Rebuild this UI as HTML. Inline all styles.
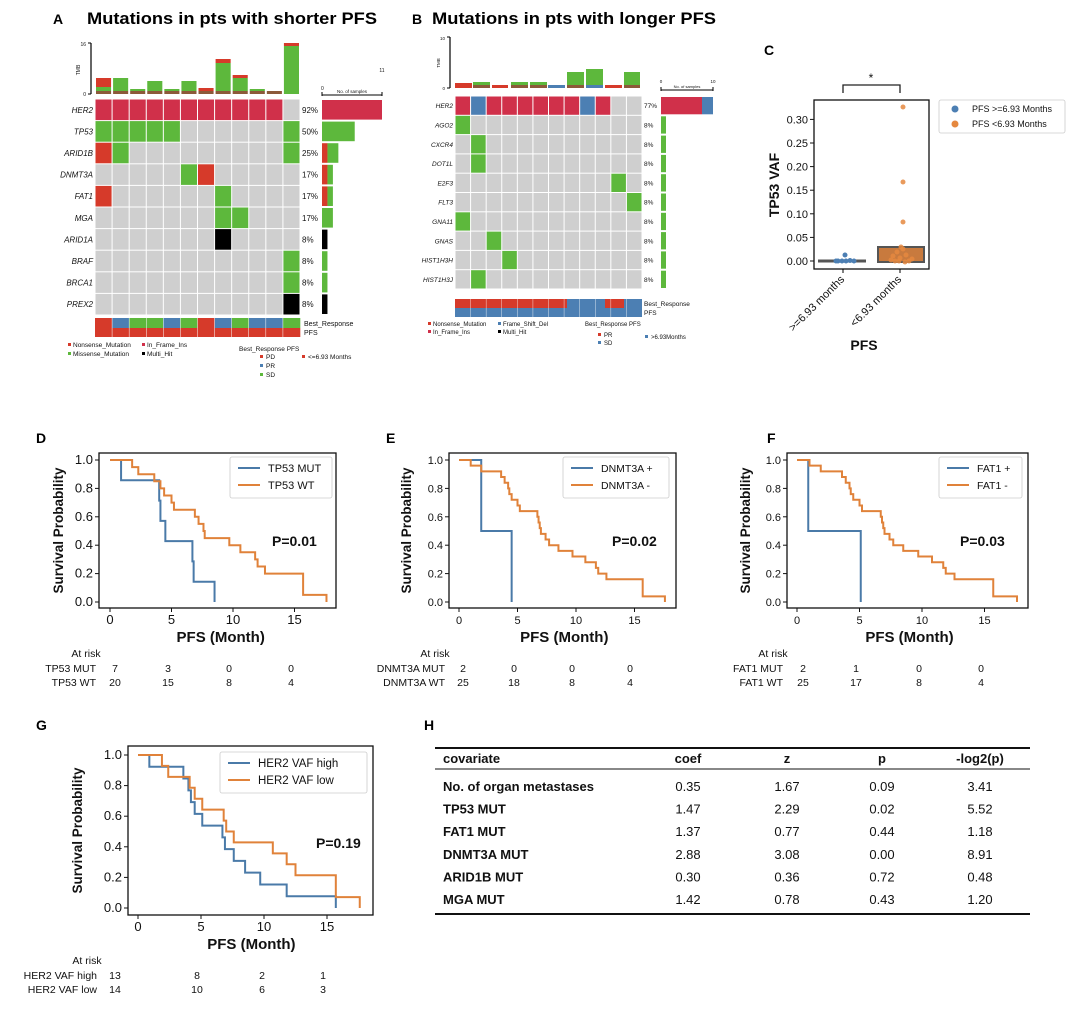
<!DOCTYPE html>
<html><head><meta charset="utf-8">
<style>
html,body{margin:0;padding:0;background:#fff;}
svg{display:block;font-family:"Liberation Sans",Arial,sans-serif;}
</style></head>
<body>
<svg id="s" width="1080" height="1013" viewBox="0 0 1080 1013" xmlns="http://www.w3.org/2000/svg">
<rect width="1080" height="1013" fill="#fff"/>
<text x="53" y="24" font-size="14" font-weight="bold">A</text>
<text x="87" y="24" font-size="17" font-weight="bold" textLength="290" lengthAdjust="spacingAndGlyphs">Mutations in pts with shorter PFS</text>
<text x="412" y="24" font-size="14" font-weight="bold">B</text>
<text x="432" y="24" font-size="17" font-weight="bold" textLength="284" lengthAdjust="spacingAndGlyphs">Mutations in pts with longer PFS</text>
<text x="764" y="55" font-size="14" font-weight="bold">C</text>
<text x="36" y="443" font-size="14" font-weight="bold">D</text>
<text x="386" y="443" font-size="14" font-weight="bold">E</text>
<text x="767" y="443" font-size="14" font-weight="bold">F</text>
<text x="36" y="730" font-size="14" font-weight="bold">G</text>
<text x="424" y="730" font-size="14" font-weight="bold">H</text>
<g id="dyn"></g>
</svg>
<script>
const NS="http://www.w3.org/2000/svg";
const root=document.getElementById('dyn');
function el(tag,attrs,txt){const e=document.createElementNS(NS,tag);for(const k in attrs)e.setAttribute(k,attrs[k]);if(txt!==undefined)e.textContent=txt;root.appendChild(e);return e;}
function rect(x,y,w,h,f){return el('rect',{x:x,y:y,width:w,height:h,fill:f});}
function text(x,y,t,o){o=o||{};const a={x:x,y:y,'font-size':o.fs||10,fill:o.fill||'#111'};if(o.anchor)a['text-anchor']=o.anchor;if(o.bold)a['font-weight']='bold';if(o.italic)a['font-style']='italic';if(o.tr)a.transform=o.tr;return el('text',a,t);}
function line(x1,y1,x2,y2,c,w){return el('line',{x1:x1,y1:y1,x2:x2,y2:y2,stroke:c||'#000','stroke-width':w||1});}
const RED='#d0304a',NRED='#d63a2a',GRN='#5db83c',BLU='#4c7fb3',GRY='#cfcfcf',BRN='#8c5a3a',BLK='#000';

/* ---------- Panel A ---------- */
(function(){
 const x0=95,x1=300,y0=99,y1=315,nc=12,nr=10,cw=(x1-x0)/nc,rh=(y1-y0)/nr;
 const genes=['HER2','TP53','ARID1B','DNMT3A','FAT1','MGA','ARID1A','BRAF','BRCA1','PREX2'];
 const pct=['92%','50%','25%','17%','17%','17%','8%','8%','8%','8%'];
 const M={};
 for(let c=0;c<11;c++)M['0_'+c]=RED;
 [0,1,2,3,4,11].forEach(c=>M['1_'+c]=GRN);
 M['2_0']=NRED;M['2_1']=GRN;M['2_11']=GRN;
 M['3_5']=GRN;M['3_6']=NRED;
 M['4_0']=NRED;M['4_7']=GRN;
 M['5_7']=GRN;M['5_8']=GRN;
 M['6_7']=BLK;M['7_11']=GRN;M['8_11']=GRN;M['9_11']=BLK;
 for(let r=0;r<nr;r++){
  for(let c=0;c<nc;c++){rect(x0+c*cw+0.5,y0+r*rh+0.5,cw-1,rh-1,M[r+'_'+c]||GRY);}
  text(93,y0+r*rh+rh/2+3,genes[r],{fs:8,anchor:'end',italic:true});
  text(302,y0+r*rh+rh/2+3,pct[r],{fs:8});
 }
 // right bars
 const rb=[[ [RED,11] ],[[GRN,6]],[[NRED,1],[GRN,2]],[[NRED,1],[GRN,1]],[[NRED,1],[GRN,1]],[[GRN,2]],[[BLK,1]],[[GRN,1]],[[GRN,1]],[[BLK,1]]];
 const sc=60/11;
 rb.forEach((segs,r)=>{let x=322;segs.forEach(s=>{rect(x,y0+r*rh+1,s[1]*sc,rh-2,s[0]);x+=s[1]*sc;});});
 line(322,95,382,95,'#000',1);line(322,92,322,96);line(382,92,382,96);
 text(321,90,'0',{fs:5});text(382,72,'11',{fs:5,anchor:'middle'});
 text(352,93,'No. of samples',{fs:4.5,anchor:'middle'});
 // TMB
 line(91,43,91,94,'#000',1.2);line(88,43,91,43);line(88,94,91,94);
 text(86,46,'16',{fs:5,anchor:'end'});text(86,96,'0',{fs:5,anchor:'end'});
 text(80,70,'TMB',{fs:5,anchor:'middle',tr:'rotate(-90 80 70)'});
 const tmb=[[[BRN,3],[GRN,4],[NRED,9]],[[BRN,3],[GRN,13]],[[BRN,3],[GRN,2]],[[BRN,3],[GRN,10]],[[BRN,3],[GRN,2]],[[BRN,3],[GRN,10]],[[BRN,3],[NRED,3]],[[BRN,3],[GRN,28],[NRED,4]],[[BRN,3],[GRN,13],[NRED,3]],[[BRN,3],[GRN,2]],[[BRN,3]],[[GRN,48],[NRED,3]]];
 tmb.forEach((segs,c)=>{let y=94;segs.forEach(s=>{rect(x0+c*cw+1,y-s[1],cw-2,s[1],s[0]);y-=s[1];});});
 // annotations
 const br=[NRED,BLU,GRN,GRN,BLU,GRN,NRED,BLU,GRN,BLU,BLU,GRN];
 br.forEach((col,c)=>{rect(x0+c*cw,318,cw+0.3,10,col);rect(x0+c*cw,328,cw+0.3,9,NRED);});
 for(let c=1;c<nc;c++){line(x0+c*cw,318,x0+c*cw,337,'#fff',0.5);}
 text(304,326,'Best_Response',{fs:7});text(304,335,'PFS',{fs:7});
 // legend
 rect(68,343,3,3,NRED);text(73,347,'Nonsense_Mutation',{fs:6.5});
 rect(142,343,3,3,RED);text(147,347,'In_Frame_Ins',{fs:6.5});
 rect(68,352,3,3,GRN);text(73,356,'Missense_Mutation',{fs:6.5});
 rect(142,352,3,3,BLK);text(147,356,'Multi_Hit',{fs:6.5});
 text(239,351,'Best_Response PFS',{fs:6.5});
 rect(260,355,3,3,NRED);text(266,359,'PD',{fs:6.5});
 rect(260,364,3,3,BLU);text(266,368,'PR',{fs:6.5});
 rect(260,373,3,3,GRN);text(266,377,'SD',{fs:6.5});
 rect(302,355,3,3,NRED);text(308,359,'<=6.93 Months',{fs:6.5});
})();

/* ---------- Panel B ---------- */
(function(){
 const x0=455,x1=642,y0=96,y1=289,nc=12,nr=10,cw=(x1-x0)/nc,rh=(y1-y0)/nr;
 const genes=['HER2','AGO2','CXCR4','DOT1L','E2F3','FLT3','GNA11','GNAS','HIST1H3H','HIST1H3J'];
 const M={};
 for(let c=0;c<10;c++)M['0_'+c]=RED;M['0_1']=BLU;M['0_8']=BLU;
 M['1_0']=GRN;M['2_1']=GRN;M['3_1']=GRN;M['4_10']=GRN;M['5_11']=GRN;M['6_0']=GRN;M['7_2']=GRN;M['8_3']=GRN;M['9_1']=GRN;
 for(let r=0;r<nr;r++){
  for(let c=0;c<nc;c++){rect(x0+c*cw+0.5,y0+r*rh+0.5,cw-1,rh-1,M[r+'_'+c]||GRY);}
  text(453,y0+r*rh+rh/2+2.5,genes[r],{fs:6.5,anchor:'end',italic:true});
  text(644,y0+r*rh+rh/2+2.5,r==0?'77%':'8%',{fs:6.5});
  if(r==0){rect(661,y0+1,41,rh-2,RED);rect(702,y0+1,11,rh-2,BLU);}else rect(661,y0+r*rh+1,5,rh-2,GRN);
 }
 line(661,90,713,90);line(661,87,661,91);line(713,87,713,91);
 text(661,83,'0',{fs:4.5,anchor:'middle'});text(713,83,'10',{fs:4.5,anchor:'middle'});text(687,88,'No. of samples',{fs:4,anchor:'middle'});
 line(450,37,450,88,'#000',1.2);line(447,37,450,37);line(447,88,450,88);
 text(445,40,'10',{fs:4.5,anchor:'end'});text(445,90,'0',{fs:4.5,anchor:'end'});
 text(440,63,'TMB',{fs:4.5,anchor:'middle',tr:'rotate(-90 440 63)'});
 const bars=[[455,472,[[NRED,5]]],[473,490,[[BRN,3],[GRN,3]]],[492,508,[[NRED,3]]],[511,528,[[BRN,3],[GRN,3]]],[530,547,[[BRN,3],[GRN,3]]],[548,565,[[BLU,3]]],[567,584,[[BRN,3],[GRN,13]]],[586,603,[[BLU,3],[GRN,16]]],[605,622,[[NRED,3]]],[624,640,[[BRN,3],[GRN,13]]]];
 bars.forEach(b=>{let y=88;b[2].forEach(s=>{rect(b[0],y-s[1],b[1]-b[0],s[1],s[0]);y-=s[1];});});
 rect(455,299,112,9,NRED);rect(567,299,38,9,BLU);rect(605,299,19,9,NRED);rect(624,299,18,9,BLU);
 rect(455,308,187,9,BLU);
 for(let c=1;c<nc;c++){line(x0+c*cw,299,x0+c*cw,317,'#fff',0.4);}
 text(644,306,'Best_Response',{fs:6.5});text(644,315,'PFS',{fs:6.5});
 rect(428,322,3,3,NRED);text(433,326,'Nonsense_Mutation',{fs:6});
 rect(498,322,3,3,BLU);text(503,326,'Frame_Shift_Del',{fs:6});
 rect(428,330,3,3,RED);text(433,334,'In_Frame_Ins',{fs:6});
 rect(498,330,3,3,BLK);text(503,334,'Multi_Hit',{fs:6});
 text(585,326,'Best_Response PFS',{fs:6});
 rect(598,333,3,3,NRED);text(604,337,'PR',{fs:6});
 rect(598,341,3,3,BLU);text(604,345,'SD',{fs:6});
 rect(645,335,3,3,BLU);text(651,339,'>6.93Months',{fs:6});
})();

/* ---------- Panel C ---------- */
(function(){
 const yv=v=>261-v/0.05*23.6;
 el('rect',{x:814,y:100,width:115,height:169,fill:'none',stroke:'#111','stroke-width':1.3});
 [0,0.05,0.1,0.15,0.2,0.25,0.3].forEach(v=>{line(810,yv(v),814,yv(v),'#111',1);text(808,yv(v)+4,v.toFixed(2),{fs:11,anchor:'end'});});
 line(843,269,843,273);line(900,269,900,273);
 text(779,185,'TP53  VAF',{fs:14,bold:true,anchor:'middle',tr:'rotate(-90 779 185)'});
 // bracket
 el('path',{d:'M843 93 V85 H900 V93',fill:'none',stroke:'#222','stroke-width':1.3});
 text(871,82,'*',{fs:12,anchor:'middle'});
 // box 1
 line(818,261,866,261,'#555',3);
 [[838,261],[842,261],[846,261],[850,260.5],[845,255],[836,261],[854,261]].forEach(p=>el('circle',{cx:p[0],cy:p[1],r:2.5,fill:'#4c7fb3'}));
 // box 2
 el('rect',{x:878,y:247,width:46,height:15,fill:'#c87a3e',stroke:'#555','stroke-width':2});
 [[903,107],[903,182],[903,222],[895,261],[900,258],[906,255],[897,252],[903,249],[909,261],[891,260],[912,259],[899,261],[905,262],[893,256],[901,247]].forEach(p=>el('circle',{cx:p[0],cy:p[1],r:2.5,fill:'#e5883f',opacity:0.85}));
 text(845,280,'>=6.93 months',{fs:11,anchor:'end',tr:'rotate(-45 845 280)'});
 text(902,280,'<6.93 months',{fs:11,anchor:'end',tr:'rotate(-45 902 280)'});
 text(864,350,'PFS',{fs:14,bold:true,anchor:'middle'});
 el('rect',{x:939,y:100,width:126,height:33,fill:'#fff',stroke:'#ccc','stroke-width':0.8,rx:2});
 el('circle',{cx:955,cy:109,r:3.5,fill:'#4c7fb3'});text(972,112,'PFS >=6.93 Months',{fs:9});
 el('circle',{cx:955,cy:124,r:3.5,fill:'#e5883f'});text(972,127,'PFS <6.93 Months',{fs:9});
})();

/* ---------- KM panels ---------- */
function km(p){
 const X=t=>p.x0+t*p.mx, Y=v=>p.y0-(p.y0-p.y1)*v;
 const [fx1,fy1,fx2,fy2]=p.frame;
 p.series.forEach(s=>{
  let d='M'+X(0)+' '+Y(1);let cur=1;
  s.steps.forEach(st=>{d+=' H'+X(st[0])+' V'+Y(st[1]);cur=st[1];});
  el('path',{d:d,fill:'none',stroke:s.c,'stroke-width':2,'stroke-linejoin':'miter'});
 });
 el('rect',{x:fx1,y:fy1,width:fx2-fx1,height:fy2-fy1,fill:'none',stroke:'#111','stroke-width':1.3});
 [0,0.2,0.4,0.6,0.8,1].forEach(v=>{line(fx1-4,Y(v),fx1,Y(v),'#111',1);text(fx1-6,Y(v)+4,v.toFixed(1),{fs:p.fs,anchor:'end'});});
 [0,5,10,15].forEach(t=>{line(X(t),fy2,X(t),fy2+4,'#111',1);text(X(t),fy2+16,String(t),{fs:p.fs,anchor:'middle'});});
 text(X(9),fy2+34,'PFS (Month)',{fs:15,bold:true,anchor:'middle'});
 const cy=(fy1+fy2)/2;
 text(p.ylx,cy,'Survival Probability',{fs:13.5,bold:true,anchor:'middle',tr:'rotate(-90 '+p.ylx+' '+cy+')'});
 const [lx1,ly1,lx2,ly2]=p.leg;
 el('rect',{x:lx1,y:ly1,width:lx2-lx1,height:ly2-ly1,fill:'#fff',stroke:'#ccc','stroke-width':0.8,rx:2});
 p.series.forEach((s,i)=>{const yy=ly1+11+i*17;line(lx1+8,yy,lx1+30,yy,s.c,2);text(lx1+38,yy+4,s.name,{fs:p.lfs});});
 text(p.px,p.py,p.ptxt,{fs:14,bold:true});
 // at risk
 const ry=fy2+49;
 text(p.rlab-10,ry,'At risk',{fs:10.5,anchor:'middle'});
 p.risk.forEach((r,i)=>{text(p.rlab,ry+15+i*14,r[0],{fs:10.5,anchor:'end'});r[1].forEach((n,j)=>text(p.rn[j],ry+15+i*14,n,{fs:10.5,anchor:'middle'}));});
}
const TP53WT=[[1.8,.95],[2.3,.9],[3.6,.85],[4.1,.8],[4.4,.75],[5.0,.7],[5.2,.65],[6.9,.6],[7.2,.55],[7.6,.5],[7.7,.45],[9.7,.4],[10.6,.35],[11.8,.3],[12.0,.25],[12.6,.2],[15.7,.05],[17.6,0]];
const WT25=[[1.0,.96],[1.9,.92],[3.6,.88],[3.9,.84],[4.2,.8],[4.3,.76],[4.5,.72],[5.0,.68],[5.2,.64],[6.7,.6],[6.8,.56],[6.9,.52],[7.0,.48],[7.4,.44],[7.7,.4],[8.5,.36],[9.7,.32],[10.8,.28],[11.7,.24],[11.9,.2],[12.6,.16],[15.7,.04],[17.6,0]];
const BL='#4a7aa8',OR='#e0823a';
km({frame:[99,453,336,608],x0:110,mx:12.3,y1:460,y0:602,fs:13,ylx:63,leg:[230,457,332,498],lfs:11,px:272,py:546,ptxt:'P=0.01',
 series:[{c:BL,name:'TP53 MUT',steps:[[0.9,.857],[4.0,.714],[4.1,.571],[4.5,.429],[6.7,.286],[6.8,.143],[8.5,0]]},{c:OR,name:'TP53 WT',steps:TP53WT}],
 rlab:96,rn:[115,168,229,291],risk:[['TP53 MUT',['7','3','0','0']],['TP53 WT',['20','15','8','4']]]});
km({frame:[449,453,676,608],x0:459,mx:11.7,y1:460,y0:602,fs:11,ylx:411,leg:[563,457,669,498],lfs:10.5,px:612,py:546,ptxt:'P=0.02',
 series:[{c:BL,name:'DNMT3A +',steps:[[1.9,.5],[4.5,0]]},{c:OR,name:'DNMT3A -',steps:WT25}],
 rlab:445,rn:[463,514,572,630],risk:[['DNMT3A MUT',['2','0','0','0']],['DNMT3A WT',['25','18','8','4']]]});
km({frame:[787,453,1028,608],x0:797,mx:12.5,y1:460,y0:602,fs:11,ylx:750,leg:[939,457,1022,498],lfs:10.5,px:960,py:546,ptxt:'P=0.03',
 series:[{c:BL,name:'FAT1 +',steps:[[0.9,.5],[5.1,0]]},{c:OR,name:'FAT1 -',steps:WT25}],
 rlab:783,rn:[803,856,919,981],risk:[['FAT1 MUT',['2','1','0','0']],['FAT1 WT',['25','17','8','4']]]});
km({frame:[128,746,373,915],x0:138,mx:12.6,y1:755,y0:908,fs:13,ylx:82,leg:[220,752,367,793],lfs:11.5,px:316,py:848,ptxt:'P=0.19',
 series:[{c:BL,name:'HER2 VAF high',steps:[[0.9,.923],[3.6,.846],[4.0,.769],[4.2,.692],[4.5,.615],[5.1,.538],[6.7,.462],[6.9,.385],[7.6,.308],[8.5,.231],[9.7,.154],[11.8,.077],[15.7,0]]},
  {c:OR,name:'HER2 VAF low',steps:[[1.9,.929],[2.4,.857],[4.1,.786],[4.5,.714],[5.1,.643],[6.8,.571],[7.0,.5],[7.6,.429],[10.7,.357],[11.8,.286],[12.5,.214],[15.7,.071],[17.6,0]]}],
 rlab:97,rn:[115,197,262,323],risk:[['HER2 VAF high',['13','8','2','1']],['HER2 VAF low',['14','10','6','3']]]});

/* ---------- Table H ---------- */
(function(){
 line(435,748,1030,748,'#111',2);line(435,769,1030,769,'#111',1);line(435,914,1030,914,'#111',2);
 const cols=[688,787,882,980];
 text(443,763,'covariate',{fs:13,bold:true});
 ['coef','z','p','-log2(p)'].forEach((h,i)=>text(cols[i],763,h,{fs:13,bold:true,anchor:'middle'}));
 const rows=[['No. of organ metastases','0.35','1.67','0.09','3.41'],['TP53 MUT','1.47','2.29','0.02','5.52'],['FAT1 MUT','1.37','0.77','0.44','1.18'],['DNMT3A MUT','2.88','3.08','0.00','8.91'],['ARID1B MUT','0.30','0.36','0.72','0.48'],['MGA MUT','1.42','0.78','0.43','1.20']];
 rows.forEach((r,i)=>{const y=791+i*22.6;text(443,y,r[0],{fs:13,bold:true});for(let j=1;j<5;j++)text(cols[j-1],y,r[j],{fs:13,anchor:'middle'});});
})();
</script>
</body></html>
